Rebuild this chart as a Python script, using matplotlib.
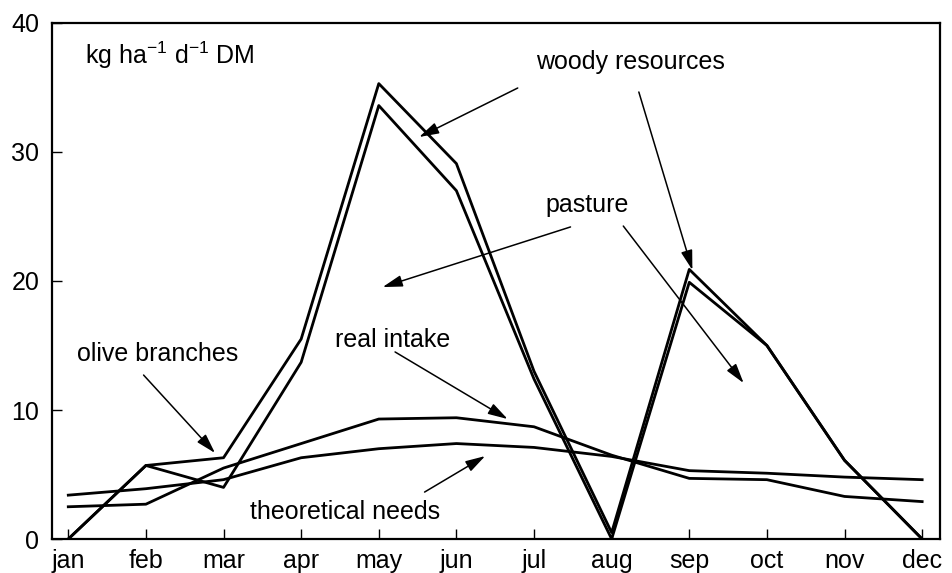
import matplotlib
matplotlib.use("Agg")
import matplotlib.pyplot as plt

plt.rcParams['font.family'] = ['Liberation Sans', 'DejaVu Sans']
plt.rcParams['mathtext.default'] = 'regular'

months = ["jan", "feb", "mar", "apr", "may", "jun", "jul", "aug", "sep", "oct", "nov", "dec"]
upper = [0, 5.7, 6.3, 15.5, 35.3, 29.1, 13.0, 0.5, 20.9, 15.0, 6.1, 0]
lower = [0, 5.7, 4.0, 13.7, 33.6, 27.0, 12.4, 0.0, 19.9, 15.0, 6.1, 0]
real_intake = [2.5, 2.7, 5.5, 7.4, 9.3, 9.4, 8.7, 6.5, 4.7, 4.6, 3.3, 2.9]
theoretical = [3.4, 3.9, 4.6, 6.3, 7.0, 7.4, 7.1, 6.4, 5.3, 5.1, 4.8, 4.6]

x = list(range(len(months)))

fig = plt.figure(figsize=(9.52, 5.73), dpi=100)
ax = fig.add_axes([0.0546, 0.0593, 0.9328, 0.9006])

for s in (upper, lower, real_intake, theoretical):
    ax.plot(x, s, color="black", lw=2.0)

ax.set_xlim(-0.21, 11.23)
ax.set_ylim(0, 40)
ax.set_xticks(x)
ax.set_xticklabels(months)
ax.set_yticks([0, 10, 20, 30, 40])
ax.tick_params(direction="in", length=7, width=1, labelsize=18, pad=7)
ax.tick_params(axis="y", pad=9)
for sp in ax.spines.values():
    sp.set_linewidth(1.6)

fs = 18
ax.text(0.21, 37.5, r"kg ha$^{-1}$ d$^{-1}$ DM", fontsize=fs, ha="left", va="center")
ax.text(7.24, 37.0, "woody resources", fontsize=fs, ha="center", va="center")
ax.text(6.68, 25.9, "pasture", fontsize=fs, ha="center", va="center")
ax.text(1.15, 14.34, "olive branches", fontsize=fs, ha="center", va="center")
ax.text(4.18, 15.4, "real intake", fontsize=fs, ha="center", va="center")
ax.text(3.56, 2.1, "theoretical needs", fontsize=fs, ha="center", va="center")

arrows = [
    ((5.79, 34.96), (4.52, 31.16)),
    ((7.35, 34.65), (8.04, 20.85)),
    ((6.47, 24.19), (4.05, 19.53)),
    ((7.15, 24.26), (8.70, 12.09)),
    ((0.97, 12.71), (1.89, 6.67)),
    ((4.21, 14.50), (5.66, 9.30)),
    ((4.59, 3.64), (5.37, 6.43)),
]
for start, end in arrows:
    ax.annotate("", xy=end, xytext=start,
                arrowprops=dict(arrowstyle="-|>,head_length=1.2,head_width=0.35",
                                color="black", lw=1.1, shrinkA=0, shrinkB=0))

fig.savefig("out.png", dpi=100)
